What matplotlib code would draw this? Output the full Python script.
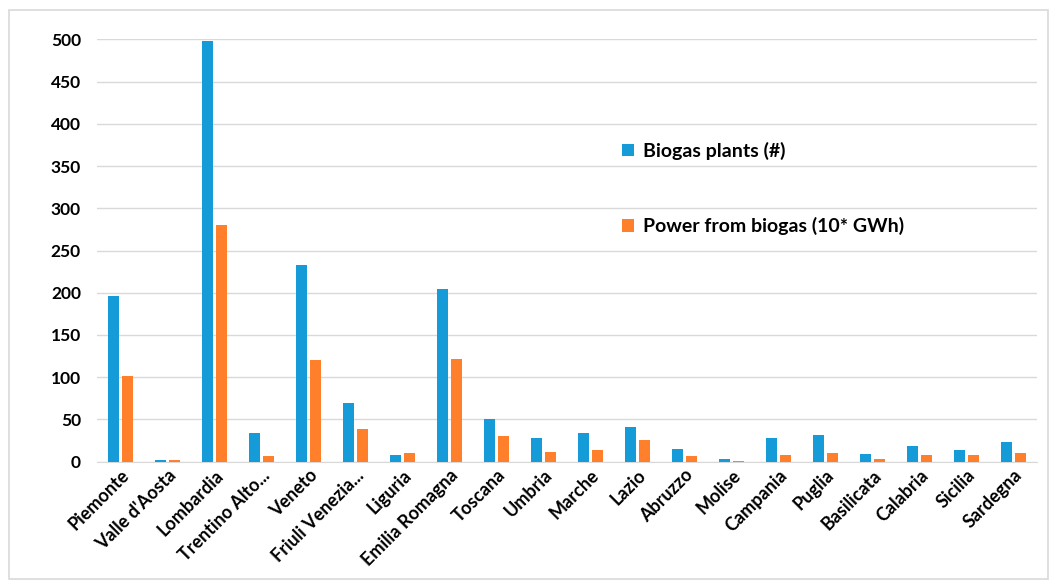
import numpy as np
import matplotlib.pyplot as plt
from matplotlib.patches import FancyBboxPatch

regions = ["Piemonte", "Valle d'Aosta", "Lombardia", "Trentino Alto...", "Veneto",
           "Friuli Venezia...", "Liguria", "Emilia Romagna", "Toscana", "Umbria",
           "Marche", "Lazio", "Abruzzo", "Molise", "Campania", "Puglia",
           "Basilicata", "Calabria", "Sicilia", "Sardegna"]
plants = [196, 2, 498, 34, 233, 70, 8, 204, 50, 28, 34, 41, 15, 3, 28, 32, 9, 19, 14, 23]
power = [102, 2, 280, 7, 120, 39, 10, 121, 31, 12, 14, 26, 7, 1, 8, 10, 3, 8, 8, 10]

plt.rcParams['font.family'] = ['Lato', 'DejaVu Sans']
plt.rcParams['font.weight'] = 'bold'

fig = plt.figure(figsize=(10.54, 5.84), dpi=100)
ax = fig.add_axes([0.092, 0.2094, 0.892, 0.7233])

x = np.arange(len(regions))
w = 0.234
ax.bar(x - 0.149, plants, w, color='#159BD7', label='Biogas plants (#)', zorder=3)
ax.bar(x + 0.149, power, w, color='#FF7F2A', label='Power from biogas (10* GWh)', zorder=3)

ax.set_xlim(-0.5, len(regions) - 0.5)
ax.set_ylim(0, 500)
ax.set_yticks(range(0, 501, 50))
ax.yaxis.grid(True, color='#D9D9D9', linewidth=1, zorder=0)
ax.tick_params(length=0)
ax.tick_params(axis='y', pad=11.5, labelsize=12.5)
ax.set_xticks(x)
ax.set_xticklabels(regions, rotation=45, ha='right', rotation_mode='anchor', fontsize=13)
for s in ['top', 'right', 'left']:
    ax.spines[s].set_visible(False)
ax.spines['bottom'].set_color('#D9D9D9')

leg = ax.legend(loc='upper left', bbox_to_anchor=(0.590, 0.757), bbox_transform=fig.transFigure,
                frameon=False, borderpad=0, borderaxespad=0,
                fontsize=14, handlelength=0.6, handleheight=0.6, handletextpad=0.5,
                labelspacing=2.95)

fig.patches.append(FancyBboxPatch((0.009, 0.008), 0.985, 0.975, boxstyle='square,pad=0',
                                  transform=fig.transFigure, fill=False,
                                  edgecolor='#D9D9D9', linewidth=1.2))

fig.savefig('out.png', dpi=100)
